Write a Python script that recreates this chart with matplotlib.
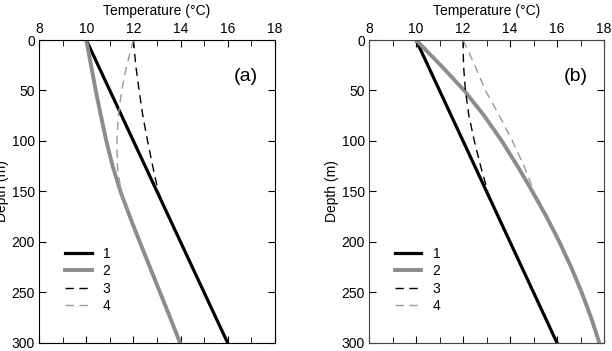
import numpy as np
import matplotlib.pyplot as plt

plt.rcParams['font.family'] = ['Liberation Sans', 'DejaVu Sans']

# panel (a)
a_depth = [0, 300]
a_t1 = [10, 16]
a_d2 = [0, 25, 50, 75, 100, 125, 150, 175, 200, 225, 250, 275, 300]
a_t2 = [10, 10.2, 10.4, 10.62, 10.85, 11.12, 11.45, 11.85, 12.27, 12.7,
        13.13, 13.56, 13.98]
a_d3 = [0, 25, 50, 75, 100, 125, 150, 165]
a_t3 = [12, 12.1, 12.24, 12.4, 12.6, 12.82, 13.05, 13.3]
a_d4 = [0, 25, 50, 75, 100, 125, 150, 175]
a_t4 = [12, 11.72, 11.5, 11.36, 11.3, 11.32, 11.47, 11.85]

# panel (b)
b_depth = [0, 300]
b_t1 = [10, 16]
b_d2 = [0, 25, 50, 75, 100, 125, 150, 175, 200, 225, 250, 275, 300]
b_t2 = [10, 11.05, 12.05, 12.9, 13.65, 14.32, 14.95, 15.55, 16.1, 16.6,
        17.05, 17.45, 17.8]
b_d3 = [0, 25, 50, 75, 100, 125, 150]
b_t3 = [12, 12.02, 12.1, 12.25, 12.48, 12.75, 13.05]
b_d4 = [0, 25, 50, 75, 100, 125, 150]
b_t4 = [12, 12.5, 12.95, 13.55, 14.1, 14.6, 15.02]

labels = ['1', '2', '3', '4']
panel_tags = ['(a)', '(b)']

fig = plt.figure(figsize=(6.12, 3.51), dpi=100)
axes = [fig.add_axes([0.064, 0.023, 0.385, 0.863]),
        fig.add_axes([0.603, 0.023, 0.384, 0.863])]

data = [
    (a_depth, a_t1, a_d2, a_t2, a_d3, a_t3, a_d4, a_t4),
    (b_depth, b_t1, b_d2, b_t2, b_d3, b_t3, b_d4, b_t4),
]

for ax, (d1, t1, d2, t2, d3, t3, d4, t4), tag in zip(axes, data, panel_tags):
    ax.plot(t1, d1, color='black', lw=2.3, label=labels[0])
    ax.plot(t2, d2, color='#8c8c8c', lw=2.8, label=labels[1])
    ax.plot(t3, d3, color='black', lw=1.0, ls=(0, (6, 4)), label=labels[2])
    ax.plot(t4, d4, color='#9a9a9a', lw=1.0, ls=(0, (6, 4)), label=labels[3])

    ax.set_xlim(8, 18)
    ax.set_ylim(300, 0)
    ax.xaxis.set_ticks_position('both')
    ax.xaxis.set_label_position('top')
    ax.tick_params(axis='x', labeltop=True, labelbottom=False)
    ax.set_xticks(np.arange(8, 19, 2))
    ax.set_xticks(np.arange(8, 19, 1), minor=True)
    ax.set_yticks(np.arange(0, 301, 50))
    ax.tick_params(which='both', direction='in', top=True, right=True,
                   labelsize=10, length=5, pad=3)
    ax.tick_params(which='minor', length=4)
    ax.set_xlabel('Temperature (°C)', fontsize=10, labelpad=5)
    ax.set_ylabel('Depth (m)', fontsize=10, labelpad=2)
    ax.text(0.93, 0.88, tag, transform=ax.transAxes, fontsize=14,
            ha='right', va='center')
    ax.legend(loc='lower left', bbox_to_anchor=(0.087, 0.08), frameon=False,
              fontsize=10, handlelength=1.9, labelspacing=0.25,
              handletextpad=0.8, borderaxespad=0)

for sp in axes[1].spines.values():
    sp.set_color('#444444')

fig.savefig('out.png', dpi=100)
